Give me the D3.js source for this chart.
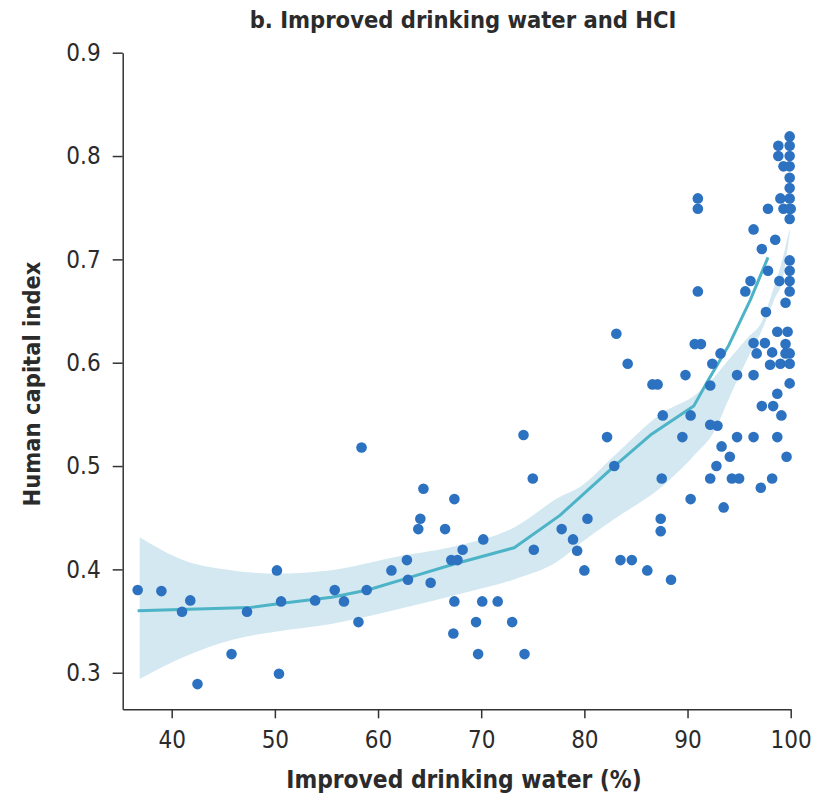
<!DOCTYPE html>
<html>
<head>
<meta charset="utf-8">
<script src="https://cdn.jsdelivr.net/npm/d3@7"></script>
<style>
  body { margin: 0; background: #fff; }
  svg text { font-family: 'DejaVu Sans Condensed', 'DejaVu Sans', sans-serif; fill: #2b2b2b; }
</style>
</head>
<body>
<svg id="chart" width="826" height="803"></svg>
<script>
// scatter: improved drinking water (%) vs HCI
var water = [36.7, 39.0, 41.0, 41.8, 42.5, 45.8, 47.3, 50.2, 50.4, 50.6, 53.9, 55.8, 56.7, 58.4, 58.1, 58.9,
  61.3, 62.8, 62.9, 65.1, 64.4, 64.1, 63.9, 66.5, 67.4, 67.1, 67.7, 68.2, 70.2, 67.4, 67.3, 69.5, 69.7, 70.1,
  71.6, 73.0, 74.2, 74.1, 75.0, 75.1, 77.8, 78.9, 79.3, 80.0, 80.3, 82.2, 82.9, 83.1, 84.2, 83.5, 84.6, 86.1,
  88.4, 86.6, 87.1, 87.6, 87.5, 87.4, 87.4, 89.8, 89.5, 90.3, 90.3, 90.7, 91.3, 91.0, 91.0, 91.0, 92.2, 92.4,
  93.2, 92.2, 92.9, 92.8, 92.2, 93.3, 94.1, 93.5, 94.3, 95.0, 94.8, 94.8, 95.6, 96.1, 96.4, 96.4, 96.7, 96.4,
  96.4, 97.1, 97.2, 97.2, 97.5, 97.6, 97.8, 97.8, 98.0, 98.2, 98.2, 98.3, 98.5, 98.7, 98.7, 98.7, 98.8, 98.8,
  98.9, 99.0, 99.0, 99.1, 99.3, 99.3, 99.5, 99.5, 99.5, 99.6, 99.7, 99.9, 99.9, 99.9, 99.9, 99.9, 99.9, 99.9,
  99.9, 99.9, 100.0, 99.9, 99.9, 99.9, 99.9, 99.9, 99.9, 99.9];
var hci = [0.380, 0.379, 0.359, 0.370, 0.289, 0.318, 0.359, 0.399, 0.299, 0.369, 0.370, 0.380, 0.369, 0.518, 0.349, 0.380,
  0.399, 0.409, 0.390, 0.387, 0.478, 0.449, 0.439, 0.439, 0.468, 0.409, 0.409, 0.419, 0.429, 0.369, 0.338, 0.349, 0.318, 0.369,
  0.369, 0.349, 0.318, 0.530, 0.488, 0.419, 0.439, 0.429, 0.418, 0.399, 0.449, 0.528, 0.500, 0.628, 0.599, 0.409, 0.409, 0.399,
  0.390, 0.579, 0.579, 0.549, 0.488, 0.449, 0.437, 0.588, 0.528, 0.549, 0.468, 0.618, 0.618, 0.759, 0.749, 0.669, 0.578, 0.599,
  0.609, 0.540, 0.539, 0.500, 0.488, 0.519, 0.509, 0.460, 0.488, 0.488, 0.528, 0.588, 0.669, 0.679, 0.729, 0.619, 0.609, 0.588,
  0.528, 0.479, 0.558, 0.710, 0.619, 0.649, 0.749, 0.689, 0.598, 0.610, 0.488, 0.558, 0.719, 0.630, 0.570, 0.528, 0.810, 0.800,
  0.679, 0.759, 0.599, 0.549, 0.790, 0.749, 0.658, 0.618, 0.609, 0.509, 0.630, 0.819, 0.810, 0.800, 0.790, 0.779, 0.769, 0.759,
  0.749, 0.739, 0.749, 0.699, 0.689, 0.679, 0.669, 0.609, 0.599, 0.580];

// fitted line
var fitX = [36.7, 47.5, 50.5, 55.5, 59.0, 63.0, 67.3, 73.2, 77.6, 82.8, 86.4, 90.6, 92.0, 94.0, 96.1, 97.8];
var fitY = [0.360, 0.363, 0.367, 0.373, 0.380, 0.392, 0.405, 0.421, 0.452, 0.499, 0.530, 0.558, 0.583, 0.617, 0.661, 0.702];

// confidence band
var bandX = [36.9, 41.1, 45.9, 50.2, 55.3, 61.7, 68.2, 73.1, 77.6, 79.6, 82.8, 87.5, 90.9, 92.5, 94.0, 96.0, 97.1, 98.4, 99.2, 99.9];
var bandHi = [0.431, 0.409, 0.399, 0.396, 0.399, 0.412, 0.424, 0.440, 0.470, 0.480, 0.509, 0.551, 0.570, 0.585, 0.603, 0.626, 0.638, 0.674, 0.700, 0.730];
var bandLo = [0.294, 0.315, 0.332, 0.340, 0.347, 0.361, 0.377, 0.390, 0.409, 0.425, 0.448, 0.480, 0.513, 0.532, 0.565, 0.608, 0.629, 0.661, 0.680, 0.725];

var xTicks = [40, 50, 60, 70, 80, 90, 100];
var yTicks = [0.3, 0.4, 0.5, 0.6, 0.7, 0.8, 0.9];

var svg = d3.select("#chart");

var x = d3.scaleLinear().domain([35.25, 100]).range([122.7, 790.7]);
var y = d3.scaleLinear().domain([0.2646, 0.9]).range([709.3, 52.7]);

var band = bandX.map(function(d, i) { return [d, bandLo[i], bandHi[i]]; });
svg.append("path")
  .datum(band)
  .attr("fill", "#d3e8f1")
  .attr("d", d3.area()
    .x(function(d) { return x(d[0]); })
    .y0(function(d) { return y(d[1]); })
    .y1(function(d) { return y(d[2]); })
    .curve(d3.curveMonotoneX));

svg.append("path")
  .datum(fitX.map(function(d, i) { return [d, fitY[i]]; }))
  .attr("fill", "none")
  .attr("stroke", "#4db3c6")
  .attr("stroke-width", 3)
  .attr("stroke-linejoin", "round")
  .attr("d", d3.line()
    .x(function(d) { return x(d[0]); })
    .y(function(d) { return y(d[1]); }));

svg.append("g")
  .selectAll("circle")
  .data(water)
  .enter().append("circle")
  .attr("cx", function(d) { return x(d); })
  .attr("cy", function(d, i) { return y(hci[i]); })
  .attr("r", 5.3)
  .attr("fill", "#2c72c0");

var xAxis = svg.append("g")
  .attr("transform", "translate(0,709.3)")
  .call(d3.axisBottom(x).tickValues(xTicks).tickSize(9).tickSizeOuter(0).tickPadding(13)
    .tickFormat(d3.format("d")));
var yAxis = svg.append("g")
  .attr("transform", "translate(122.7,0)")
  .call(d3.axisLeft(y).tickValues(yTicks).tickSize(10).tickSizeOuter(0).tickPadding(12)
    .tickFormat(d3.format(".1f")));

[xAxis, yAxis].forEach(function(g) {
  g.selectAll("path, line").attr("stroke", "#333").attr("stroke-width", 1.5);
  g.selectAll("text").attr("font-size", "24px").attr("fill", "#2b2b2b")
    .style("font-family", "'DejaVu Sans Condensed', 'DejaVu Sans', sans-serif");
});

svg.append("text")
  .attr("x", 463)
  .attr("y", 28)
  .attr("text-anchor", "middle")
  .attr("font-size", "23.5px")
  .attr("font-weight", "bold")
  .text("b. Improved drinking water and HCI");

svg.append("text")
  .attr("x", 464)
  .attr("y", 788)
  .attr("text-anchor", "middle")
  .attr("font-size", "24.3px")
  .attr("font-weight", "bold")
  .text("Improved drinking water (%)");

svg.append("text")
  .attr("transform", "translate(40,384) rotate(-90)")
  .attr("text-anchor", "middle")
  .attr("font-size", "23.5px")
  .attr("font-weight", "bold")
  .text("Human capital index");
</script>
</body>
</html>
